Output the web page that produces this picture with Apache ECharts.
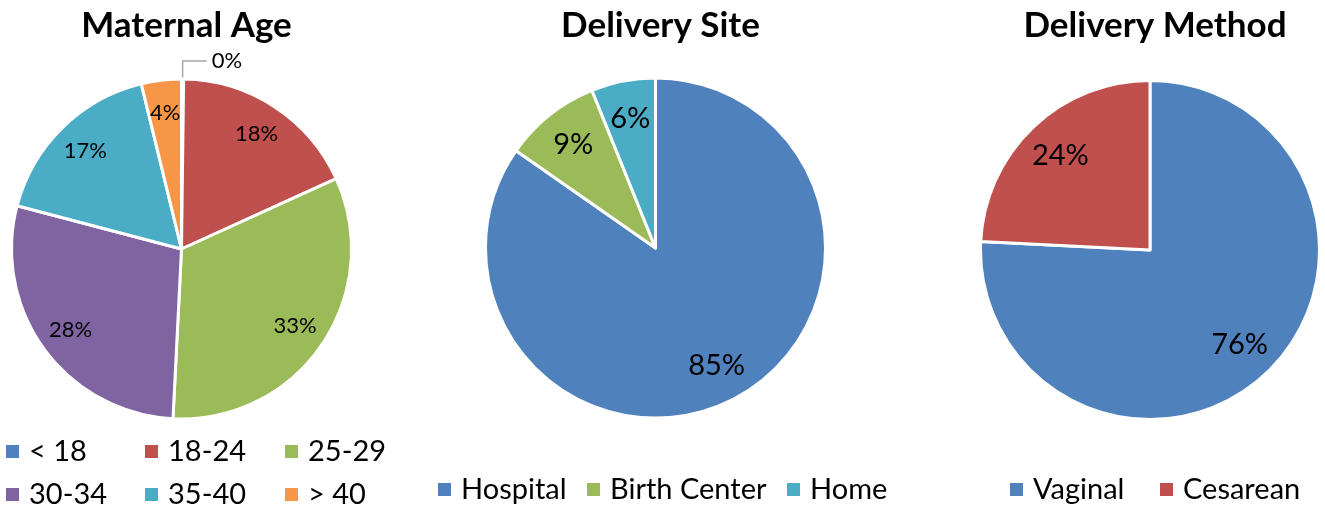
<!DOCTYPE html>
<html>
<head>
<meta charset="utf-8">
<script src="https://cdn.jsdelivr.net/npm/echarts@6/dist/echarts.min.js"></script>
<style>
html,body{margin:0;padding:0;background:#fff;}
#c{width:1325px;height:508px;}
</style>
</head>
<body>
<div id="c"></div>
<script>
// ---- data ----
const ageCategories = ['< 18', '18-24', '25-29', '30-34', '35-40', '> 40'];
const ageValues = [0.2, 18, 32.6, 28.3, 17.1, 3.8];
const siteCategories = ['Hospital', 'Birth Center', 'Home'];
const siteValues = [84.7, 9.2, 6.1];
const methodCategories = ['Vaginal', 'Cesarean'];
const methodValues = [75.8, 24.2];
const titles = ['Maternal Age', 'Delivery Site', 'Delivery Method'];

const ageColors = ['#4F81BD', '#C0504D', '#9BBB59', '#8064A2', '#4BACC6', '#F79646'];
const siteColors = ['#4F81BD', '#9BBB59', '#4BACC6'];
const methodColors = ['#4F81BD', '#C0504D'];

const FONT = 'Lato, "Liberation Sans", sans-serif';
const pct = p => Math.round(p.percent) + '%';

function mkData(cats, vals, colors) {
  return cats.map((n, i) => ({ name: n, value: vals[i], itemStyle: { color: colors[i] } }));
}

const pies = [
  { cats: ageCategories, vals: ageValues, colors: ageColors, center: [181.5, 249], r: 170, inner: 0.58, fs: 22 },
  { cats: siteCategories, vals: siteValues, colors: siteColors, center: [655.5, 248], r: 170, inner: 0.52, fs: 29 },
  { cats: methodCategories, vals: methodValues, colors: methodColors, center: [1150, 250], r: 169.5, inner: 0.5, fs: 29 }
];

const series = [];
pies.forEach((p, k) => {
  series.push({
    type: 'pie', center: p.center, radius: [0, p.r], startAngle: 90, clockwise: true,
    avoidLabelOverlap: false, silent: true, animation: false,
    label: { show: false }, labelLine: { show: false },
    itemStyle: { borderColor: '#fff', borderWidth: 3 },
    emphasis: { disabled: true },
    data: mkData(p.cats, p.vals, p.colors)
  });
  series.push({
    type: 'pie', center: p.center, radius: [p.r * p.inner, p.r], startAngle: 90, clockwise: true,
    avoidLabelOverlap: false, silent: true, animation: false,
    itemStyle: { color: 'rgba(0,0,0,0)', borderWidth: 0 },
    emphasis: { disabled: true },
    label: { show: true, position: 'inside', formatter: pct, color: '#000', fontFamily: FONT, fontSize: p.fs },
    labelLine: { show: false },
    data: p.cats.map((n, i) => {
      const d = { name: n, value: p.vals[i] };
      if (k === 0 && i === 0) {
        d.label = { position: 'outside', fontSize: p.fs, color: '#000' };
        d.labelLine = { show: true, length: 18, length2: 24, lineStyle: { color: '#A6A6A6', width: 1.5 } };
      }
      return d;
    })
  });
});

const legTxt = { fontFamily: FONT, fontSize: 29, color: '#000', padding: [0, 0, 0, 5] };
// one legend component per item so marker positions can be placed as in the reference
function leg(name, left, top) {
  return {
    data: [name], left: left, top: top, orient: 'horizontal',
    itemWidth: 13, itemHeight: 13, icon: 'rect',
    itemStyle: { borderWidth: 0 },
    textStyle: legTxt, selectedMode: false, padding: 0
  };
}
const legendPos = [
  [ageCategories[0], 6, 437], [ageCategories[1], 145, 437], [ageCategories[2], 285, 437],
  [ageCategories[3], 6, 480], [ageCategories[4], 145, 480], [ageCategories[5], 285, 480],
  [siteCategories[0], 438, 475], [siteCategories[1], 587, 475], [siteCategories[2], 787, 475],
  [methodCategories[0], 1010, 475], [methodCategories[1], 1160, 475]
];

const option = {
  backgroundColor: '#fff',
  animation: false,
  title: titles.map((t, i) => ({
    text: t, left: pies[i].center[0], top: 3, textAlign: 'center',
    textStyle: { fontFamily: FONT, fontWeight: 'bold', fontSize: 35, color: '#000' }
  })),
  legend: legendPos.map(l => leg(l[0], l[1], l[2])),
  series: series
};

const chart = echarts.init(document.getElementById('c'), null, { renderer: 'canvas' });
chart.setOption(option);
</script>
</body>
</html>
